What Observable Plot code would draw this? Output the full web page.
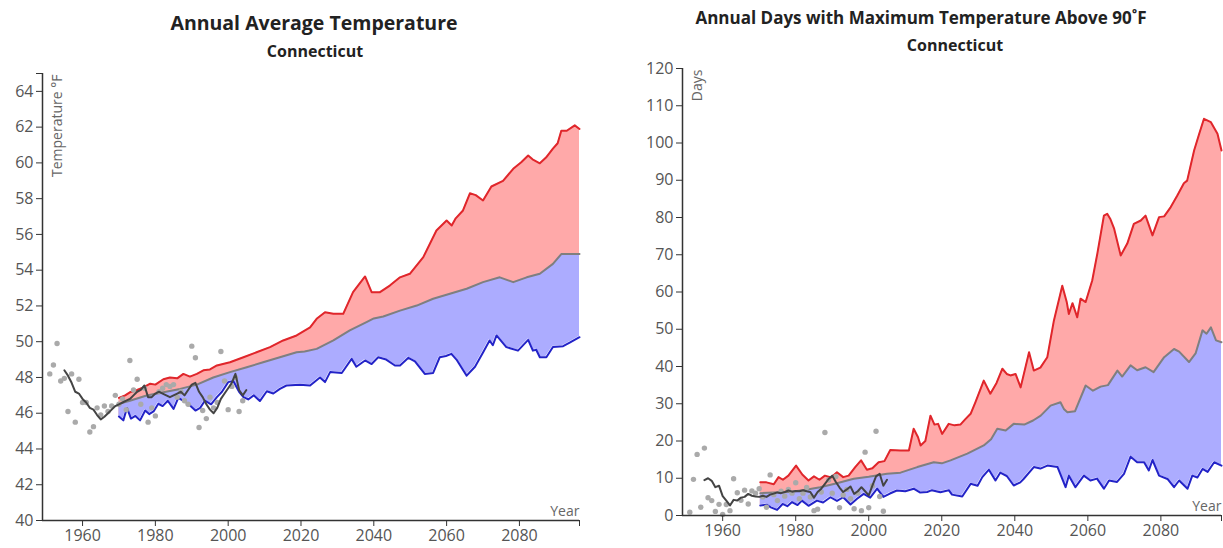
<!DOCTYPE html>
<html>
<head>
<meta charset="utf-8">
<script src="https://cdn.jsdelivr.net/npm/d3@7"></script>
<script src="https://cdn.jsdelivr.net/npm/@observablehq/plot@0.6"></script>
<style>
  html, body { margin: 0; padding: 0; background: #fff; }
  body { width: 1223px; height: 548px; overflow: hidden; position: relative; font-family: "Open Sans", Lato, sans-serif; }
  .panel { position: absolute; top: 0; height: 548px; }
  .panel svg { position: absolute; left: 0; top: 0; }
  .title { position: absolute; width: 600px; text-align: center; font-weight: 700; color: #222; white-space: nowrap; z-index: 2; font-family: "Open Sans", Lato, sans-serif; }
  .t2 { font-size: 16px; }
</style>
</head>
<body>
<div id="left" class="panel" style="left:0px;width:600px;">
  <div class="title" style="left:14px;top:9px;font-size:19.5px;">Annual Average Temperature</div>
  <div class="title t2" style="left:15px;top:40px;">Connecticut</div>
</div>
<div id="right" class="panel" style="left:640px;width:583px;">
  <div class="title" style="left:-19px;top:6px;font-size:17px;">Annual Days with Maximum Temperature Above 90˚F</div>
  <div class="title t2" style="left:15px;top:34px;">Connecticut</div>
</div>
<script>
// ---------------- Left chart: Annual Average Temperature ----------------
const tempYLabel = "Temperature °F";
const tempXDomain = [1949, 2096.5];
const tempYDomain = [40, 65];
const tempXTicks = [1960, 1980, 2000, 2020, 2040, 2060, 2080];
const tempYTicks = [40, 42, 44, 46, 48, 50, 52, 54, 56, 58, 60, 62, 64];

// observed annual values [year, °F]
const tempObserved = [
  [1951,48.2],[1952,48.7],[1953,49.9],[1954,47.8],[1955,47.95],[1956,46.1],[1957,48.2],[1958,45.5],
  [1959,47.9],[1960,46.6],[1961,46.6],[1962,44.95],[1963,45.25],[1964,46.3],[1965,45.9],[1966,46.4],
  [1967,46.1],[1968,46.4],[1969,47.0],[1970,46.5],[1971,46.8],[1972,46.2],[1973,48.95],[1974,47.3],
  [1975,47.9],[1976,46.5],[1977,47.4],[1978,45.5],[1979,46.3],[1980,45.85],[1981,47.2],[1982,47.4],
  [1983,47.6],[1984,47.5],[1985,47.6],[1986,46.9],[1987,47.2],[1988,46.7],[1989,46.5],[1990,49.75],
  [1991,49.1],[1992,45.2],[1993,46.15],[1994,45.7],[1995,46.9],[1996,46.3],[1997,46.6],[1998,49.45],
  [1999,47.8],[2000,46.2],[2001,47.5],[2002,48.0],[2003,46.1],[2004,46.7]
];
// observed smoothed
const tempObservedSmooth = [
  [1955,48.4],[1956,48.1],[1957,47.7],[1958,47.2],[1959,47.1],[1960,46.8],[1961,46.6],[1962,46.3],
  [1963,46.2],[1964,45.9],[1965,45.65],[1966,45.8],[1967,46.0],[1968,46.2],[1969,46.4],[1970,46.5],
  [1971,46.6],[1972,46.7],[1973,46.8],[1974,47.0],[1975,47.2],[1976,47.3],[1977,47.55],[1978,46.9],
  [1979,46.9],[1980,47.1],[1981,47.2],[1982,47.1],[1983,47.0],[1984,46.9],[1985,47.0],[1986,47.1],
  [1987,47.2],[1988,47.0],[1989,47.3],[1990,47.6],[1991,47.7],[1992,47.2],[1993,46.9],[1994,46.5],
  [1995,46.2],[1996,46.0],[1997,46.3],[1998,46.8],[1999,47.1],[2000,47.4],[2001,47.7],[2002,48.2],
  [2003,47.3],[2004,47.0],[2005,47.3]
];
// projections: higher, median, lower
const tempUpper = [
  [1970,46.86],[1971.7,47.0],[1973,47.17],[1975,47.3],[1976.7,47.45],[1978.6,47.65],[1980,47.6],
  [1982.2,47.9],[1984,48.0],[1986,47.95],[1987.7,48.2],[1989.5,48.05],[1991.4,48.2],[1993.2,48.4],
  [1995,48.45],[1996.9,48.67],[2000.5,48.85],[2004.2,49.13],[2007.8,49.41],[2011.5,49.7],
  [2015.1,50.07],[2018.8,50.35],[2022.5,50.8],[2024.3,51.28],[2026.6,51.65],[2028.9,51.56],
  [2031.6,51.56],[2034.3,52.77],[2037.6,53.65],[2039.4,52.77],[2041.7,52.77],[2044.4,53.14],
  [2047.2,53.6],[2049.9,53.8],[2053.6,54.73],[2057.2,56.22],[2060,56.78],[2061.4,56.5],[2062.5,56.9],
  [2064.5,57.34],[2066.4,58.3],[2068,58.2],[2070,57.9],[2072.3,58.68],[2075.5,59.0],[2078.3,59.67],
  [2080.5,60.04],[2082.4,60.41],[2083.6,60.2],[2085.6,59.98],[2087.3,60.3],[2089.2,60.8],
  [2090.5,61.1],[2091.5,61.8],[2093,61.8],[2095.2,62.1],[2096.5,61.9]
];
const tempMedian = [
  [1970,46.53],[1973,46.7],[1977.6,46.99],[1982.2,47.17],[1986.8,47.36],[1991.4,47.6],[1995.9,48.0],
  [2000.5,48.3],[2005.1,48.57],[2009.6,48.85],[2014.2,49.13],[2018.8,49.41],[2021,49.45],[2024.3,49.6],
  [2028.9,50.07],[2033.4,50.63],[2038,51.1],[2040,51.3],[2042.6,51.41],[2047.2,51.74],[2051.8,52.02],
  [2056.3,52.4],[2060.9,52.68],[2065.5,52.96],[2070,53.33],[2074.6,53.6],[2078.3,53.33],[2082,53.6],
  [2085.6,53.8],[2089.2,54.35],[2091.5,54.9],[2096.5,54.9]
];
const tempLower = [
  [1970,45.82],[1971.2,45.6],[1972.2,46.3],[1973.3,45.7],[1974.5,45.85],[1975.8,45.6],[1977.2,46.15],
  [1978.3,45.95],[1979.5,46.1],[1980.8,46.53],[1982,46.4],[1983.4,46.7],[1985,46.24],[1986.3,46.86],
  [1987.6,46.7],[1989,46.53],[1991,46.15],[1992.3,46.3],[1993.6,46.7],[1995.3,46.5],[1996.9,46.9],
  [1998.3,47.2],[2000,47.74],[2001.4,47.8],[2003,47.2],[2004.2,46.9],[2005.5,46.77],[2007,47.0],
  [2008.7,46.68],[2010.6,47.23],[2012.4,47.1],[2014.2,47.36],[2016,47.55],[2019.7,47.59],
  [2022.5,47.55],[2025.2,48.0],[2026.6,47.74],[2028,48.3],[2031.2,48.25],[2033.9,49.04],
  [2035.2,48.6],[2037.6,48.95],[2039.4,48.75],[2041.2,49.13],[2043.4,49.0],[2045.8,48.67],
  [2047.2,48.67],[2049.5,49.1],[2051.3,48.9],[2054,48.2],[2056.3,48.25],[2058.1,49.13],[2059.8,49.2],
  [2061.3,49.32],[2062.7,49.0],[2065.5,48.1],[2067.8,48.6],[2070,49.4],[2071.8,50.07],[2072.7,49.8],
  [2073.7,50.35],[2076.4,49.7],[2079.6,49.5],[2082.4,50.1],[2083.7,49.5],[2084.6,49.55],
  [2085.6,49.13],[2087.4,49.13],[2089.2,49.7],[2092,49.75],[2093.8,49.95],[2096.5,50.25]
];

// ---------------- Right chart: Days above 90°F ----------------
const daysYLabel = "Days";
const daysXDomain = [1949, 2096.6];
const daysYDomain = [0, 120];
const daysXTicks = [1960, 1980, 2000, 2020, 2040, 2060, 2080];
const daysYTicks = [0, 10, 20, 30, 40, 50, 60, 70, 80, 90, 100, 110, 120];

const daysObserved = [
  [1951,0.9],[1952,9.7],[1953,16.4],[1954,2.2],[1955,18.1],[1956,4.75],[1957,4.0],[1958,1.1],
  [1959,3.0],[1960,0.3],[1961,2.95],[1962,1.3],[1963,9.85],[1964,6.1],[1965,4.1],[1966,6.8],
  [1967,3.1],[1968,6.6],[1969,6.0],[1970,7.2],[1971,5.0],[1972,2.2],[1973,10.9],[1974,5.6],
  [1975,4.0],[1976,6.5],[1977,5.2],[1978,7.0],[1979,6.0],[1980,8.8],[1981,4.5],[1982,6.0],
  [1983,7.5],[1984,5.0],[1985,1.3],[1986,1.7],[1987,6.3],[1988,22.3],[1989,9.5],[1990,6.0],
  [1991,10.5],[1992,2.1],[1993,5.5],[1994,7.0],[1995,4.5],[1996,1.8],[1997,6.0],[1998,1.3],
  [1999,17.0],[2000,2.1],[2001,8.0],[2002,22.6],[2003,5.1],[2004,1.15]
];
const daysObservedSmooth = [
  [1955,9.5],[1956,10.0],[1957,9.3],[1958,7.6],[1959,8.0],[1960,5.2],[1961,4.0],[1962,2.7],
  [1963,4.2],[1964,4.0],[1965,4.8],[1966,5.0],[1967,5.8],[1968,5.3],[1969,5.1],[1970,5.0],
  [1971,5.3],[1972,5.0],[1973,5.6],[1974,5.9],[1975,6.2],[1976,6.0],[1977,6.3],[1978,6.7],
  [1979,6.4],[1980,6.6],[1981,6.5],[1982,6.8],[1983,6.5],[1984,6.3],[1985,4.8],[1986,6.3],
  [1987,7.2],[1988,8.5],[1989,9.8],[1990,10.7],[1991,9.0],[1992,7.5],[1993,6.3],[1994,7.0],
  [1995,7.8],[1996,5.8],[1997,6.5],[1998,7.6],[1999,6.5],[2000,5.4],[2001,8.0],[2002,10.5],
  [2003,11.2],[2004,8.0],[2005,9.6]
];
const daysUpper = [
  [1970.3,8.9],[1972,8.9],[1974,8.4],[1975.3,10.3],[1976.5,9.6],[1978,10.7],[1980.1,13.4],
  [1981.8,11.0],[1983.5,9.4],[1985,10.5],[1986.5,9.6],[1988,10.7],[1989.7,10.2],[1991.3,11.6],
  [1993,10.3],[1994.5,10.7],[1996.3,13.0],[1997.9,14.8],[1999.5,12.3],[2001,12.7],[2002.7,14.3],
  [2004.3,14.6],[2005.9,17.6],[2008.7,17.45],[2011,17.45],[2012.3,23.3],[2013.5,21.0],[2014.2,18.8],
  [2015.5,20.0],[2016.9,26.8],[2018,24.4],[2019,24.6],[2020.1,21.9],[2021.9,24.6],[2023.5,24.2],
  [2025.1,24.4],[2026.4,25.8],[2027.9,27.3],[2029.2,30.4],[2031.5,36.2],[2033.3,32.7],[2035,35.6],
  [2036.6,39.4],[2037.8,38.0],[2038.8,37.6],[2040.2,38.0],[2041.6,34.4],[2043.9,43.8],[2045.2,38.9],
  [2047,39.7],[2048.9,42.5],[2050.7,52.3],[2053,61.7],[2054.2,57.4],[2054.8,54.1],[2055.8,57.0],
  [2057.1,53.2],[2058,58.2],[2059.4,57.3],[2061.2,63.1],[2062.6,70.3],[2064.4,80.5],[2065.3,81.0],
  [2066.2,79.5],[2067.2,77.0],[2069,69.8],[2070.8,73.0],[2072.6,78.3],[2074.5,79.2],[2075.8,80.5],
  [2077.7,75.2],[2079.5,80.1],[2080.9,80.3],[2082.7,82.8],[2084.5,85.9],[2086.3,89.2],[2087.2,89.9],
  [2089.1,98.0],[2090.5,102.5],[2091.8,106.5],[2093.7,105.6],[2095.5,102.5],[2096.6,98.0]
];
const daysMedian = [
  [1970.3,6.0],[1974,6.2],[1978,6.3],[1982,6.8],[1986.7,7.6],[1991,8.6],[1995.9,9.85],[2000,10.4],
  [2005,11.2],[2008.7,11.5],[2013.3,13.0],[2017.8,14.3],[2020,14.0],[2022.4,14.8],[2027,16.6],
  [2031.5,18.8],[2033.5,20.5],[2035.2,23.3],[2037.5,22.8],[2039.7,24.6],[2042.6,24.4],[2045,25.5],
  [2047.1,26.8],[2049.8,29.5],[2052.5,30.4],[2053.5,28.5],[2054.4,27.7],[2056.5,28.0],[2059.4,34.9],
  [2061.4,33.5],[2063.5,34.6],[2065.5,35.0],[2068.1,38.9],[2069.4,37.3],[2071.7,40.3],[2073.5,39.0],
  [2075.8,39.8],[2078,38.5],[2080.9,42.5],[2083.6,44.7],[2085,44.0],[2087.7,41.2],[2089.5,43.5],
  [2091.4,49.7],[2092.5,48.8],[2093.7,50.5],[2095.1,47.0],[2096.6,46.5]
];
const daysLower = [
  [1970.3,2.7],[1972,2.9],[1973.2,2.2],[1974.9,1.5],[1976.4,3.1],[1977.7,2.5],[1979,3.6],[1980.5,2.8],
  [1981.7,4.0],[1983.5,2.6],[1985.8,4.0],[1987.5,3.5],[1989.5,4.9],[1991.3,3.9],[1993,4.9],[1995,2.95],
  [1996.8,4.5],[1998.6,5.8],[2000.4,4.8],[2002.3,7.2],[2004,5.0],[2005.8,5.9],[2007.7,6.7],[2010,6.5],
  [2012.3,7.2],[2014,6.2],[2016,6.3],[2017.3,6.8],[2019.6,6.26],[2021.9,6.8],[2022.8,5.6],[2025.6,5.1],
  [2027.9,8.5],[2029.8,8.0],[2031.1,10.3],[2032.9,12.3],[2034.7,9.4],[2036,11.5],[2037.8,10.6],
  [2039.7,8.05],[2041.5,8.9],[2042.4,9.8],[2045.2,13.0],[2047,12.6],[2048.9,13.4],[2051.7,13.0],
  [2053.9,7.6],[2054.8,10.7],[2056.6,7.6],[2058.9,10.7],[2060.7,9.4],[2062.5,9.9],[2064.4,7.2],
  [2065.8,9.4],[2068,9.0],[2069.9,11.2],[2071.7,15.8],[2073.5,14.3],[2075.4,14.3],[2076.7,12.1],
  [2077.7,14.9],[2079.5,10.7],[2081.8,9.8],[2083.6,7.6],[2085,9.4],[2087.3,7.2],[2088.6,10.7],
  [2090,10.2],[2091.4,12.5],[2092.8,11.7],[2094.6,14.3],[2096.6,13.4]
];

// ---------------- Styles ----------------
const colors = {
  upperLine: "#e0262b", upperFill: "#ffa9a9",
  lowerLine: "#2323c8", lowerFill: "#acacff",
  medianLine: "#7f7f7f", observedLine: "#444444", observedDot: "#aaaaaa",
  axis: "#333333", tickText: "#555555", label: "#666666"
};

function chart(o) {
  const X = d => d[0], Y = d => d[1];
  const base = () => o.yDomain[0];
  const endTicksX = [...o.xTicks, o.xDomain[1]];
  const endTicksY = [...o.yTicks.filter(t => t !== o.yDomain[1]), o.yDomain[1]];
  return Plot.plot({
    width: o.width, height: 548,
    marginTop: o.marginTop, marginBottom: o.marginBottom,
    marginLeft: o.marginLeft, marginRight: o.marginRight,
    style: { fontFamily: "'Open Sans', Lato, sans-serif", fontSize: "15px", color: colors.tickText, background: "transparent" },
    x: { domain: o.xDomain, axis: null },
    y: { domain: o.yDomain, axis: null },
    marks: [
      Plot.areaY(o.upper, { x: X, y1: base, y2: Y, fill: colors.upperFill }),
      Plot.areaY(o.median, { x: X, y1: base, y2: Y, fill: colors.lowerFill }),
      Plot.areaY(o.lower, { x: X, y1: base, y2: Y, fill: "#ffffff", stroke: "#ffffff", strokeWidth: 1.5 }),
      Plot.line(o.upper, { x: X, y: Y, stroke: colors.upperLine, strokeWidth: 2 }),
      Plot.line(o.median, { x: X, y: Y, stroke: colors.medianLine, strokeWidth: 2 }),
      Plot.line(o.lower, { x: X, y: Y, stroke: colors.lowerLine, strokeWidth: 2 }),
      Plot.dot(o.observed, { x: X, y: Y, r: 2.7, fill: colors.observedDot, stroke: "none" }),
      Plot.line(o.smooth, { x: X, y: Y, stroke: colors.observedLine, strokeWidth: 2 }),
      Plot.ruleY([o.yDomain[0]], { stroke: colors.axis, strokeWidth: 1.5 }),
      Plot.ruleX([o.xDomain[0]], { stroke: colors.axis, strokeWidth: 1.5 }),
      Plot.axisX({ ticks: endTicksX, tickFormat: d => o.xTicks.includes(d) ? String(d) : "", tickSize: 6, tickPadding: 3, stroke: colors.axis, fill: colors.tickText, label: null, fontSize: 16 }),
      Plot.axisY({ ticks: endTicksY, tickFormat: d => o.yTicks.includes(d) ? String(d) : "", tickSize: 6, tickPadding: 3, stroke: colors.axis, fill: colors.tickText, label: null, fontSize: 16 }),
      Plot.text([o.yLabel], { frameAnchor: "top-left", rotate: -90, textAnchor: "end", lineAnchor: "middle", dx: 15, dy: 1, fontSize: 14, fill: colors.label }),
      Plot.text(["Year"], { frameAnchor: "bottom-right", textAnchor: "end", lineAnchor: "bottom", dy: -5, fontSize: 14, fill: colors.label })
    ]
  });
}

document.getElementById("left").appendChild(chart({
  width: 600, marginTop: 73, marginBottom: 28, marginLeft: 42, marginRight: 21,
  xDomain: tempXDomain, yDomain: tempYDomain, xTicks: tempXTicks, yTicks: tempYTicks,
  yLabel: tempYLabel, upper: tempUpper, median: tempMedian, lower: tempLower,
  observed: tempObserved, smooth: tempObservedSmooth
}));
document.getElementById("right").appendChild(chart({
  width: 583, marginTop: 68, marginBottom: 33, marginLeft: 42, marginRight: 2,
  xDomain: daysXDomain, yDomain: daysYDomain, xTicks: daysXTicks, yTicks: daysYTicks,
  yLabel: daysYLabel, upper: daysUpper, median: daysMedian, lower: daysLower,
  observed: daysObserved, smooth: daysObservedSmooth
}));
</script>
</body>
</html>
